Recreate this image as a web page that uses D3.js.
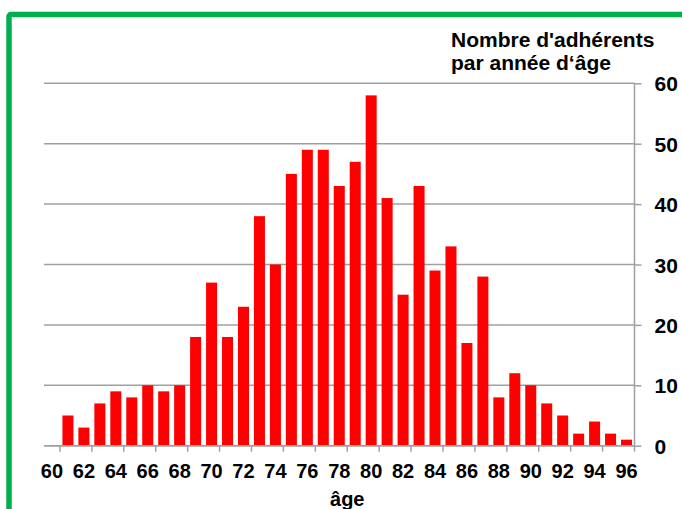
<!DOCTYPE html>
<meta charset="utf-8">
<title>adherents par age</title>
<style>
  body { margin: 0; background: #fff; }
  text { font-family: "Liberation Sans", Arial, sans-serif; font-weight: bold; fill: #000; }
</style>
<body>
<script src="https://d3js.org/d3.v7.min.js"></script>
<script>
var width = 682, height = 509;

// ages 60..96 and number of members per age
var ages = d3.range(60, 97);
var counts = [0, 5, 3, 7, 9, 8, 10, 9, 10, 18,
              27, 18, 23, 38, 30, 45, 49, 49, 43, 47,
              58, 41, 25, 43, 29, 33, 17, 28, 8, 12,
              10, 7, 5, 2, 4, 2, 1];
var yTicks = [0, 10, 20, 30, 40, 50, 60];
var xLabels = ages.filter(function(a) { return a % 2 === 0; });
var titleLines = ["Nombre d'adhérents", "par année d\u2018âge"];
var xTitle = "âge";

var data = ages.map(function(a, i) { return {age: a, n: counts[i]}; });

var svg = d3.select('body').append('svg')
    .attr('width', width)
    .attr('height', height);

// green frame
svg.append('rect')
    .attr('x', 9)
    .attr('y', 14.5)
    .attr('width', 800)
    .attr('height', 600)
    .attr('rx', 2)
    .attr('fill', 'none')
    .attr('stroke', '#00b050')
    .attr('stroke-width', 5.5);

var plotL = 44, plotR = 634.5, plotT = 83.3, plotB = 445.7;

var x = d3.scaleBand()
    .domain(ages)
    .range([plotL, plotR])
    .paddingInner(0.31)
    .paddingOuter(0.155);

var y = d3.scaleLinear()
    .domain([0, 60])
    .range([plotB, plotT]);

// gridlines
svg.append('g')
  .selectAll('line')
  .data(yTicks)
  .enter().append('line')
    .attr('x1', plotL)
    .attr('x2', plotR)
    .attr('y1', function(d) { return y(d); })
    .attr('y2', function(d) { return y(d); })
    .attr('stroke', '#a0a0a0')
    .attr('stroke-width', 1.5);

// bars
svg.append('g')
  .selectAll('rect')
  .data(data.filter(function(d) { return d.n > 0; }))
  .enter().append('rect')
    .attr('x', function(d) { return x(d.age); })
    .attr('width', x.bandwidth())
    .attr('y', function(d) { return y(d.n); })
    .attr('height', function(d) { return y(0) - y(d.n); })
    .attr('fill', '#ff0000');

// y axis on the right
var yAxis = d3.axisRight(y)
    .tickValues(yTicks)
    .tickSize(7)
    .tickPadding(13);
var gy = svg.append('g')
    .attr('transform', 'translate(' + plotR + ',0)')
    .call(yAxis);
gy.select('.domain').attr('stroke', '#a0a0a0').attr('stroke-width', 1.5)
    .attr('d', 'M0,' + plotT + 'V' + plotB);
gy.selectAll('.tick line').attr('stroke', '#a0a0a0').attr('stroke-width', 1.5);
gy.selectAll('.tick text')
    .attr('font-size', 21)
    .attr('font-family', '"Liberation Sans", Arial, sans-serif')
    .attr('font-weight', 'bold')
    .attr('dy', '0.36em');

// x axis: labels at even ages, tick marks between categories
var xAxis = d3.axisBottom(x)
    .tickValues(xLabels)
    .tickSize(0)
    .tickPadding(18);
var gx = svg.append('g')
    .attr('transform', 'translate(0,' + plotB + ')')
    .call(xAxis);
gx.select('.domain').remove();
gx.selectAll('.tick text')
    .attr('font-size', 20)
    .attr('font-family', '"Liberation Sans", Arial, sans-serif')
    .attr('font-weight', 'bold');

var gap = x.step() * x.paddingInner() / 2;
svg.append('line')
    .attr('x1', plotL).attr('x2', plotR)
    .attr('y1', plotB).attr('y2', plotB)
    .attr('stroke', '#a0a0a0').attr('stroke-width', 1.5);
svg.append('g')
  .selectAll('line')
  .data(xLabels)
  .enter().append('line')
    .attr('x1', function(d) { return x(d) + x.bandwidth() + gap; })
    .attr('x2', function(d) { return x(d) + x.bandwidth() + gap; })
    .attr('y1', plotB)
    .attr('y2', plotB + 6)
    .attr('stroke', '#a0a0a0')
    .attr('stroke-width', 1.5);

// titles
svg.append('text')
    .attr('x', 451)
    .attr('font-size', 21)
  .selectAll('tspan')
  .data(titleLines)
  .enter().append('tspan')
    .attr('x', 451)
    .attr('y', function(d, i) { return 46.7 + i * 23.5; })
    .text(function(d) { return d; });

svg.append('text')
    .attr('x', (plotL + plotR) / 2 + 8)
    .attr('y', 506)
    .attr('text-anchor', 'middle')
    .attr('font-size', 20)
    .text(xTitle);
</script>
